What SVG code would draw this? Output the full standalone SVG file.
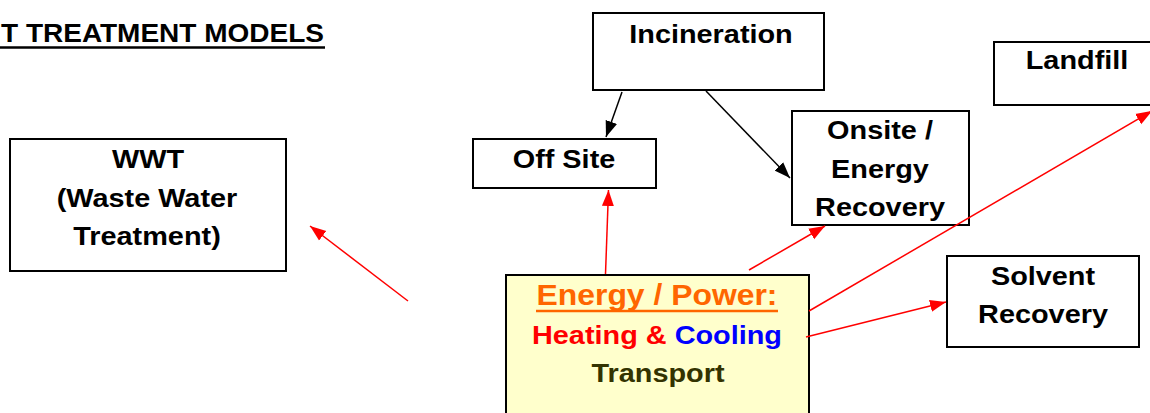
<svg xmlns="http://www.w3.org/2000/svg" width="1150" height="413" viewBox="0 0 1150 413">
<style>
.box{fill:#ffffff;stroke:#000000;stroke-width:2}
.t{font-family:"Liberation Sans",Arial,sans-serif;font-weight:bold;font-size:26px;fill:#000000;text-anchor:middle}
.blk{stroke:#000000;stroke-width:1.5;fill:none}
.red{stroke:#ff0000;stroke-width:1.5;fill:none}
</style>
<defs>
<marker id="ab" markerUnits="userSpaceOnUse" markerWidth="17" markerHeight="13" refX="16" refY="6.5" orient="auto">
<path d="M0,0.5 L16,6.5 L0,12.5 z" fill="#000000"/>
</marker>
<marker id="ar" markerUnits="userSpaceOnUse" markerWidth="17" markerHeight="13" refX="16" refY="6.5" orient="auto">
<path d="M0,0.5 L16,6.5 L0,12.5 z" fill="#ff0000"/>
</marker>
</defs>
<rect width="1150" height="413" fill="#ffffff"/>
<g id="title">
<text class="t" style="text-anchor:start" x="1" y="42" textLength="323" lengthAdjust="spacingAndGlyphs">T TREATMENT MODELS</text>
<line x1="0" y1="47.5" x2="325" y2="47.5" stroke="#000000" stroke-width="2.5"/>
</g>
<g id="incineration">
<rect class="box" x="593" y="13" width="231" height="77"/>
<text class="t" transform="translate(711 43) scale(1.11 1)">Incineration</text>
</g>
<g id="landfill">
<rect class="box" x="994" y="42" width="160" height="63"/>
<text class="t" transform="translate(1077 69) scale(1.11 1)">Landfill</text>
</g>
<g id="wwt">
<rect class="box" x="10" y="139" width="276" height="132"/>
<text class="t" transform="translate(148 168) scale(1.11 1)">WWT</text>
<text class="t" transform="translate(147 207) scale(1.11 1)">(Waste Water</text>
<text class="t" transform="translate(147 245) scale(1.11 1)">Treatment)</text>
</g>
<g id="offsite">
<rect class="box" x="473" y="139" width="183" height="49"/>
<text class="t" transform="translate(564 168) scale(1.11 1)">Off Site</text>
</g>
<g id="onsite">
<rect class="box" x="792" y="111" width="177" height="114"/>
<text class="t" transform="translate(880 139) scale(1.11 1)">Onsite /</text>
<text class="t" transform="translate(880 178) scale(1.11 1)">Energy</text>
<text class="t" transform="translate(880 216) scale(1.11 1)">Recovery</text>
</g>
<g id="solvent">
<rect class="box" x="947" y="256" width="192" height="91"/>
<text class="t" transform="translate(1043 285) scale(1.11 1)">Solvent</text>
<text class="t" transform="translate(1043 323) scale(1.11 1)">Recovery</text>
</g>
<g id="energy">
<rect x="506" y="275" width="303" height="150" fill="#ffffcc" stroke="#000000" stroke-width="2"/>
<text class="t" style="font-size:29px;fill:#ff6600" transform="translate(657 305) scale(1.1 1)">Energy / Power:</text>
<line x1="536" y1="311" x2="778" y2="311" stroke="#ff6600" stroke-width="2.5"/>
<text class="t" transform="translate(657 344) scale(1.11 1)"><tspan fill="#ff0000">Heating &amp; </tspan><tspan fill="#0000ff">Cooling</tspan></text>
<text class="t" style="fill:#333300" transform="translate(658 382) scale(1.11 1)">Transport</text>
</g>
<g id="connectors">
<line class="blk" x1="622" y1="92" x2="606" y2="137" marker-end="url(#ab)"/>
<line class="blk" x1="706" y1="91" x2="790" y2="178" marker-end="url(#ab)"/>
<line class="red" x1="605.5" y1="274" x2="608.5" y2="190" marker-end="url(#ar)"/>
<line class="red" x1="749" y1="270" x2="825" y2="226" marker-end="url(#ar)"/>
<line class="red" x1="809" y1="311" x2="1152" y2="111" marker-end="url(#ar)"/>
<line class="red" x1="806" y1="337" x2="946" y2="302" marker-end="url(#ar)"/>
<line class="red" x1="408" y1="301" x2="310" y2="226" marker-end="url(#ar)"/>
</g>
</svg>
